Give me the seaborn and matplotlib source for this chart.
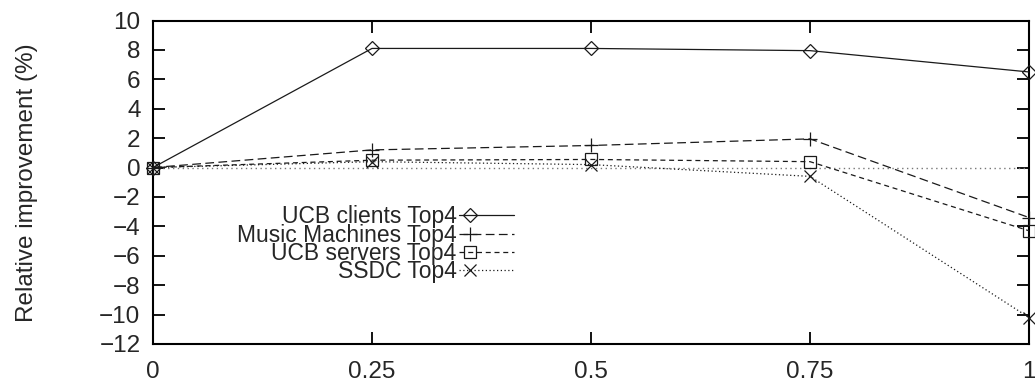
import matplotlib
matplotlib.use("Agg")
import matplotlib.pyplot as plt
from matplotlib.legend_handler import HandlerLine2D
from matplotlib.lines import Line2D
import numpy as np
import seaborn as sns
import pandas as pd

# Relative improvement of each trace set as the weight parameter varies
weights = [0, 0.25, 0.5, 0.75, 1]
ucb_clients = [0, 8.1, 8.1, 7.95, 6.5]
music_machines = [0, 1.2, 1.5, 1.95, -3.4]
ucb_servers = [0, 0.5, 0.55, 0.4, -4.3]
ssdc = [0, 0.4, 0.2, -0.6, -10.2]

series_names = ["UCB clients Top4", "Music Machines Top4", "UCB servers Top4", "SSDC Top4"]
series_values = [ucb_clients, music_machines, ucb_servers, ssdc]

x_ticks = [0, 0.25, 0.5, 0.75, 1]
x_tick_labels = ["0", "0.25", "0.5", "0.75", "1"]
y_ticks = list(range(-12, 11, 2))

sns.set_theme(style="white")
plt.rcParams["font.family"] = ["Liberation Sans", "DejaVu Sans"]

frame = pd.DataFrame({
    "weight": weights * len(series_names),
    "improvement": [v for vals in series_values for v in vals],
    "series": [n for n in series_names for _ in weights],
})


class SampleMarkerLeft(HandlerLine2D):
    """Legend sample with the point drawn near the start of the line."""

    def create_artists(self, legend, orig_handle, xdescent, ydescent,
                       width, height, fontsize, trans):
        x0 = -xdescent
        xdata = np.array([x0, x0 + 0.2 * width, x0 + width])
        ydata = np.full_like(xdata, (height - ydescent) / 2)
        legline = Line2D(xdata, ydata)
        self.update_prop(legline, orig_handle, legend)
        legline.set_markevery([1])
        legline.set_transform(trans)
        return [legline]


fig = plt.figure(figsize=(10.35, 3.85), dpi=100)
ax = fig.add_axes([153 / 1035, 1 - 344 / 385, (1029 - 153) / 1035, (344 - 20.5) / 385])

styles = {
    "UCB clients Top4": dict(marker="D", ms=7.5, dashes=None),
    "Music Machines Top4": dict(marker="+", ms=10, dashes=(7, 3.5)),
    "UCB servers Top4": dict(marker="s", ms=8, dashes=(4, 3)),
    "SSDC Top4": dict(marker="x", ms=8.5, dashes=(1, 2)),
}

# zero reference line
ax.axhline(0, color="#777777", lw=1.0, ls=(0, (1, 2.5)), zorder=1)

handles = []
for name in series_names:
    st = styles[name]
    sub = frame[frame["series"] == name]
    sns.lineplot(data=sub, x="weight", y="improvement", ax=ax, color="#1a1a1a",
                 lw=0.9, legend=False, marker=st["marker"], markersize=st["ms"],
                 markerfacecolor="none", markeredgecolor="#1a1a1a",
                 markeredgewidth=0.9, clip_on=False, zorder=3)
    line = ax.lines[-1]
    if st["dashes"] is not None:
        line.set_dashes(st["dashes"])
    line.set_label(name)
    handles.append(line)

ax.set_xlim(0, 1)
ax.set_ylim(-12, 10)
ax.set_xticks(x_ticks)
ax.set_xticklabels(x_tick_labels)
ax.set_yticks(y_ticks)
ax.set_xlabel("")
ax.set_ylabel("Relative improvement (%)", fontsize=17.5, labelpad=44)

ax.tick_params(axis="both", which="major", direction="in", length=8.5, width=1.3,
               color="black", labelsize=17.5, top=True, right=True,
               bottom=True, left=True)
ax.tick_params(axis="x", pad=12)
ax.tick_params(axis="y", pad=9)
for s in ax.spines.values():
    s.set_color("black")
    s.set_linewidth(1.5)
    s.set_visible(True)

leg = ax.legend(handles=handles, labels=series_names, loc="center right",
                bbox_to_anchor=(0.412, 0.308), frameon=False, markerfirst=False,
                fontsize=16.5, handlelength=2.4, handletextpad=0.1,
                labelspacing=-0.2, borderpad=0, borderaxespad=0,
                handler_map={h: SampleMarkerLeft() for h in handles})
for t in leg.get_texts():
    t.set_ha("right")
leg._legend_box.align = "right"

fig.savefig("out.png", dpi=100, facecolor="white")
